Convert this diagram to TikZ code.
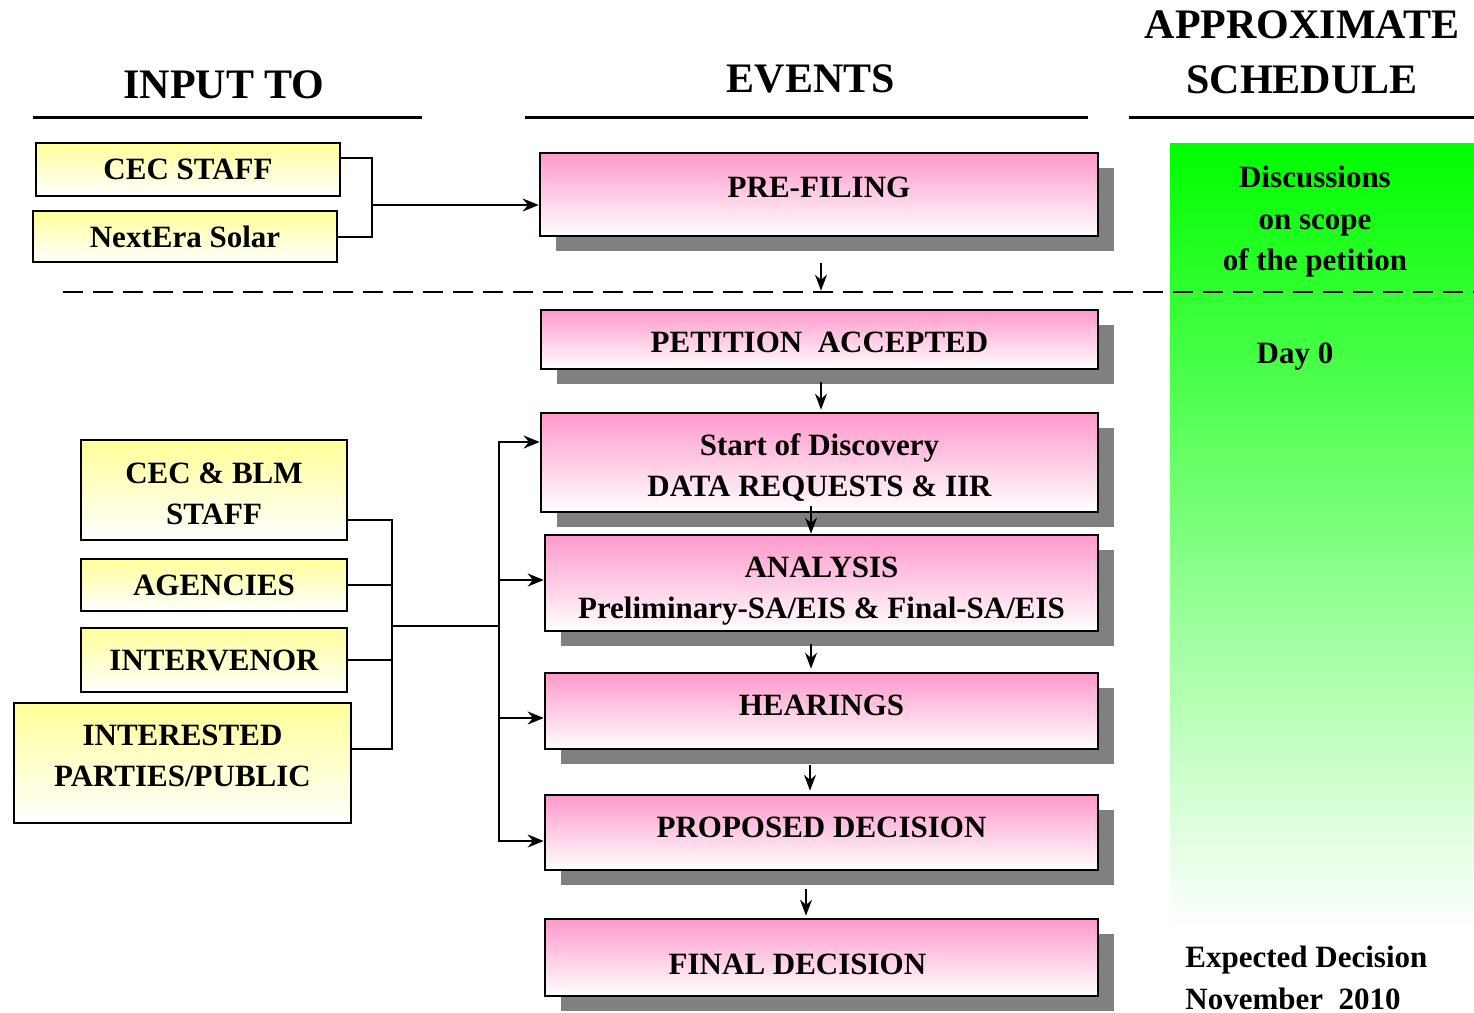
\documentclass[tikz,border=0pt]{standalone}
\usepackage{fontspec}
\setmainfont{Liberation Serif}
\usetikzlibrary{arrows.meta,shadows}
\definecolor{evtpink}{RGB}{255,153,204}
\definecolor{inpyellow}{RGB}{255,255,153}
\definecolor{schedgreen}{RGB}{0,255,0}
\definecolor{shadowgray}{RGB}{128,128,128}
% invisible struts to nudge a label up or down inside its box
\newcommand{\padtop}[1]{\rule{0pt}{#1}}
\newcommand{\padbot}[1]{\rule[-#1]{0pt}{0pt}}
\tikzset{
  evt/.style={draw=black,line width=1.3pt,top color=evtpink,bottom color=white,inner sep=0pt,
    drop shadow={shadow xshift=8pt,shadow yshift=-7.5pt,fill=shadowgray,opacity=1},
    font=\fontsize{15.5}{20.5}\selectfont\bfseries,align=center},
  inp/.style={draw=black,line width=1.2pt,top color=inpyellow,bottom color=white,inner sep=0pt,
    font=\fontsize{15.5}{20.5}\selectfont\bfseries,align=center},
  hdr/.style={font=\fontsize{21}{27.5}\selectfont\bfseries,align=center,inner sep=0pt},
  sched/.style={font=\fontsize{15.5}{20.75}\selectfont\bfseries,inner sep=0pt},
  link/.style={line width=1pt},
  harr/.style={line width=1pt,-{Stealth[length=8pt,width=6.5pt]}},
  varr/.style={line width=0.9pt,-{Stealth[length=8pt,width=6pt]}},
}
\begin{document}
\begin{tikzpicture}[x=0.5pt,y=-0.5pt]
\useasboundingbox (0,0) rectangle (1474,1013);
%\draw[step=50,gray,very thin] (0,0) grid (1474,1013); %pixel grid
%--------------------------------------------------- schedule band
\fill[top color=schedgreen,bottom color=white] (1170,143) rectangle (1474,930);
\draw[line width=1.3pt,dash pattern=on 10pt off 5pt] (63,292) -- (1474,292);
%--------------------------------------------------- headers
\node[hdr,anchor=base] (inputhdr) at (224,98) {INPUT TO};
\node[hdr,anchor=base] (eventshdr) at (811,92) {EVENTS};
\node[hdr,anchor=north] (schedhdr) at (1302,10) {APPROXIMATE\\SCHEDULE};
\draw[line width=1.5pt] (33,117) -- (422,117);
\draw[line width=1.5pt] (525,117) -- (1088,117);
\draw[line width=1.5pt] (1129,117) -- (1474,117);
%--------------------------------------------------- events
\node[evt,minimum width=279pt,minimum height=41.5pt] (prefiling) at (819,194.5) {PRE-FILING\padbot{7pt}};
\node[evt,minimum width=278.5pt,minimum height=29.5pt] (petition) at (819.5,339.5) {\padtop{13pt}PETITION\ \ ACCEPTED};
\node[evt,minimum width=278.5pt,minimum height=49.5pt] (discovery) at (819.5,462.5) {\padtop{16pt}Start of Discovery\\DATA REQUESTS \& IIR};
\node[evt,minimum width=276.5pt,minimum height=48pt] (analysis) at (821.5,583) {\padtop{18.5pt}ANALYSIS\\Preliminary-SA/EIS \& Final-SA/EIS};
\node[evt,minimum width=276.5pt,minimum height=38pt] (hearings) at (821.5,711) {HEARINGS\padbot{6pt}};
\node[evt,minimum width=276.5pt,minimum height=37.5pt] (proposed) at (821.5,832.5) {PROPOSED DECISION\padbot{5pt}};
\node[evt,minimum width=276.5pt,minimum height=38.5pt] (final) at (821.5,957.5) {\padtop{17.3pt}FINAL DECISION\hspace*{24pt}};
%--------------------------------------------------- inputs
\node[inp,minimum width=152pt,minimum height=26.5pt] (cecstaff) at (188,169.5) {CEC STAFF};
\node[inp,minimum width=152pt,minimum height=25.5pt] (nextera) at (185,236.5) {NextEra Solar};
\node[inp,minimum width=133pt,minimum height=50pt] (cecblm) at (214,490) {\padtop{14pt}CEC \& BLM\\STAFF};
\node[inp,minimum width=133pt,minimum height=26pt] (agencies) at (214,585) {AGENCIES};
\node[inp,minimum width=133pt,minimum height=32pt] (intervenor) at (214,660) {INTERVENOR};
\node[inp,minimum width=168.5pt,minimum height=60pt] (interested) at (182.5,763) {INTERESTED\\PARTIES/PUBLIC\padbot{6.8pt}};
%--------------------------------------------------- schedule texts
\node[sched,align=center,anchor=north] (discuss) at (1315,166) {Discussions\\on scope\\of the petition};
\node[sched,anchor=base] (dayzero) at (1295,363) {Day 0};
\node[sched,align=left,anchor=north west] (expected) at (1185,946) {Expected Decision\\November\ \ 2010};
%--------------------------------------------------- pre-filing inputs
\coordinate (jtop) at (372,205);
\draw[link] ([yshift=5.75pt]cecstaff.east) -| (jtop) |- (nextera.east);
\draw[harr] (jtop) -- (jtop -| prefiling.west);
%--------------------------------------------------- case inputs
\coordinate (jleft) at (392,626);
\coordinate (jbus) at (499,626);
\draw[link] ([yshift=-15pt]cecblm.east) -| (jleft) |- ([yshift=7pt]interested.east);
\draw[link] (agencies.east) -- (agencies.east -| jleft);
\draw[link] (intervenor.east) -- (intervenor.east -| jleft);
\draw[link] (jleft) -- (jbus);
\draw[harr] (jbus) |- ([yshift=10.25pt]discovery.west);
\draw[harr] (jbus) |- ([yshift=1.5pt]analysis.west);
\draw[harr] (jbus) |- ([yshift=-3.5pt]hearings.west);
\draw[harr] (jbus) |- ([yshift=-4.25pt]proposed.west);
%--------------------------------------------------- event flow
\draw[varr] ([xshift=1pt,yshift=-13pt]prefiling.south) -- ([xshift=0.75pt,yshift=9pt]petition.north);
\draw[varr] ([xshift=0.75pt,yshift=-6pt]petition.south) -- ([xshift=0.75pt,yshift=1pt]discovery.north);
\draw[varr] ([xshift=-4.25pt,yshift=3.5pt]discovery.south) -- ([xshift=-4.25pt]discovery.south |- analysis.north);
\draw[varr] ([xshift=-5.25pt,yshift=-6pt]analysis.south) -- ([xshift=-5.25pt,yshift=1.5pt]analysis.south |- hearings.north);
\draw[varr] ([xshift=-5.75pt,yshift=-7.5pt]hearings.south) -- ([xshift=-5.75pt,yshift=1.5pt]hearings.south |- proposed.north);
\draw[varr] ([xshift=-7.75pt,yshift=-9pt]proposed.south) -- ([xshift=-7.75pt,yshift=1pt]proposed.south |- final.north);
\end{tikzpicture}
\end{document}
